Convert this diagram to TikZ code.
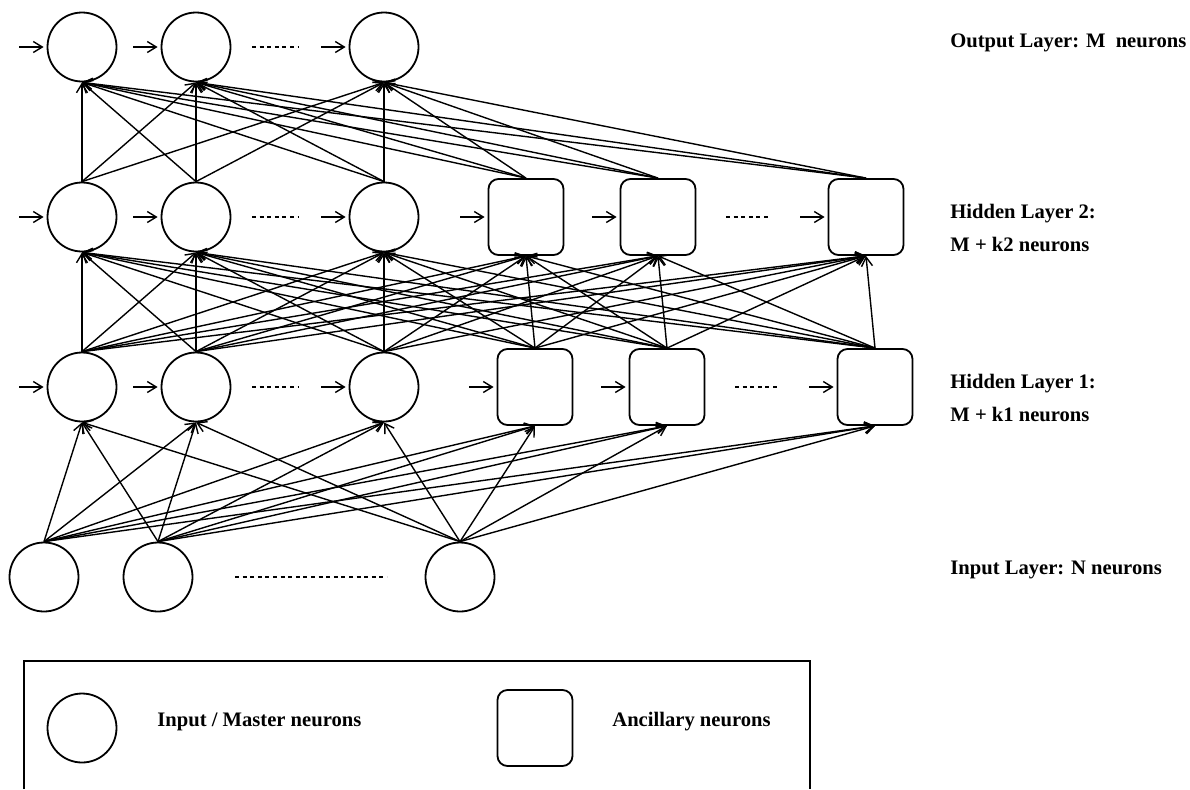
\documentclass[tikz,border=0pt]{standalone}
\usepackage{fontspec}
\setmainfont{Liberation Serif}
\usetikzlibrary{arrows.meta,positioning}

\begin{document}
\begin{tikzpicture}[x=0.5pt,y=-0.5pt,>={Straight Barb[length=4.5pt,width=5.5pt]},
	master/.style={circle,draw,line width=0.9pt,minimum size=34.5pt,inner sep=0pt},
	ancil/.style={rectangle,rounded corners=5pt,draw,line width=0.9pt,minimum width=37.5pt,minimum height=38pt,inner sep=0pt},
	conn/.style={->,line width=0.7pt},
	feed/.style={<-,line width=0.7pt,shorten <=1.5pt},
	more/.style={line width=1pt,dash pattern=on 2pt off 1.8pt},
	lbl/.style={font=\fontsize{10.3}{16.5}\selectfont\bfseries,inner sep=0pt,align=left}]
	\useasboundingbox (0,0) rectangle (1190,789);
	
	% neurons, layer by layer
	\foreach \n/\x in {1/82,2/196,3/384} {
		\node[master] (o\n)   at (\x,47)  {};
		\node[master] (h2c\n) at (\x,217) {};
		\node[master] (h1c\n) at (\x,387) {};
	}
	\foreach \n/\x in {1/526,2/658,3/866}
		\node[ancil] (h2a\n) at (\x,217) {};
	\foreach \n/\x in {1/535,2/667,3/875}
		\node[ancil] (h1a\n) at (\x,387) {};
	\foreach \n/\x in {1/44,2/158,3/460}
		\node[master] (in\n) at (\x,577) {};
	
	% incoming arrows on the left of each neuron
	\foreach \t in {o1,o2,o3,h2c1,h2c2,h2c3,h2a1,h2a2,h2a3,h1c1,h1c2,h1c3,h1a1,h1a2,h1a3}
		\draw[feed] (\t.west) -- ++(-28,0);
	
	% dots
	\foreach \y in {47,217,387}
		\draw[more] (252,\y) -- (299,\y);
	\draw[more] (726,217) -- (770,217);
	\draw[more] (735,387) -- (779,387);
	\draw[more] (235,577) -- (387,577);
	
	% full connections between layers
	\foreach \s in {h2c1,h2c2,h2c3,h2a1,h2a2,h2a3}
		\foreach \t in {o1,o2,o3}
			\draw[conn] (\s.north) -- (\t.south);
	\foreach \s in {h1c1,h1c2,h1c3,h1a1,h1a2,h1a3}
		\foreach \t in {h2c1,h2c2,h2c3,h2a1,h2a2,h2a3}
			\draw[conn] (\s.north) -- (\t.south);
	\foreach \s in {in1,in2,in3}
		\foreach \t in {h1c1,h1c2,h1c3,h1a1,h1a2,h1a3}
			\draw[conn] (\s.north) -- (\t.south);
	
	% layer names
	\node[lbl,anchor=base west] (lout) at (950,47) {Output Layer: M\ \ neurons};
	\node[lbl,anchor=north west] (lh2) at (950,204) {Hidden Layer 2:\\M + k2 neurons};
	\node[lbl,anchor=north west] (lh1) at (950,374) {Hidden Layer 1:\\M + k1 neurons};
	\node[lbl,anchor=base west] (lin) at (950,574) {Input Layer: N neurons};
	
	% legend
	\draw[line width=0.9pt] (24,789) -- (24,661) -- (810,661) -- (810,789);
	\node[master] (keym) at (82,728) {};
	\node[ancil] (keya) at (535,728) {};
	\node[lbl,anchor=base west] (tkeym) at (157,726) {Input / Master neurons};
	\node[lbl,anchor=base west] (tkeya) at (612,726) {Ancillary neurons};
\end{tikzpicture}
\end{document}
